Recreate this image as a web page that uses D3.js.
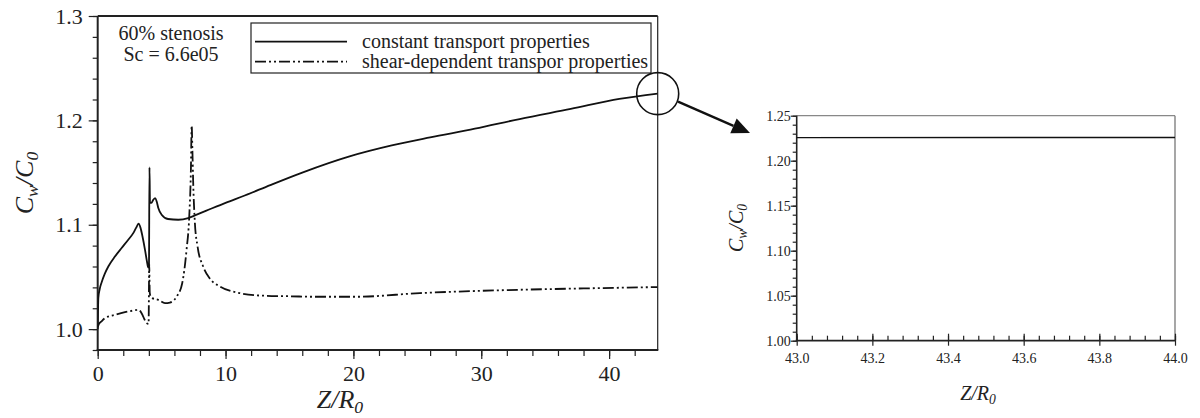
<!DOCTYPE html>
<html>
<head>
<meta charset="utf-8">
<script src="https://cdn.jsdelivr.net/npm/d3@7"></script>
<style>
  html, body { margin: 0; padding: 0; background: #fff; }
  svg { display: block; }
  svg text { font-family: "Liberation Serif", "Times New Roman", serif; fill: #222; }
</style>
</head>
<body>
<svg id="chart" width="1200" height="418"></svg>
<script>
// Wall concentration along the vessel, constant transport properties (solid)
const constZ = [0, 0.02, 0.05, 0.15, 0.31, 0.55, 0.83, 1.35, 1.87, 2.39, 2.78, 3.0, 3.2, 3.35, 3.5, 3.7, 3.85, 3.95, 4.01, 4.05, 4.09, 4.2, 4.35, 4.5, 4.62, 4.74, 5.0, 5.5, 6.3, 7.08, 7.6, 8.5, 10, 11.5, 13.5, 16, 19.7, 23, 26, 29.5, 33, 37, 40.8, 43.8];
const constC = [1.0, 1.015, 1.03, 1.038, 1.045, 1.053, 1.060, 1.0696, 1.0777, 1.0856, 1.092, 1.097, 1.101, 1.097, 1.089, 1.076, 1.065, 1.059, 1.061, 1.155, 1.121, 1.121, 1.124, 1.1256, 1.122, 1.116, 1.1096, 1.1055, 1.1048, 1.1064, 1.109, 1.1135, 1.121, 1.128, 1.138, 1.150, 1.1655, 1.176, 1.1837, 1.192, 1.2013, 1.211, 1.2205, 1.2256];

// Shear-dependent transport properties (dash-dot-dot)
const shearZ = [0, 0.1, 0.3, 0.57, 1.35, 2.13, 2.8, 3.17, 3.4, 3.56, 3.83, 3.98, 4.03, 4.07, 4.15, 4.27, 4.74, 5.26, 5.65, 6.17, 6.61, 6.95, 7.16, 7.29, 7.35, 7.41, 7.47, 7.6, 7.8, 8.25, 8.8, 9.55, 11.1, 13, 15, 17, 20.2, 25.2, 33, 38, 43.8];
const shearC = [1.002, 1.005, 1.0075, 1.0105, 1.0137, 1.0163, 1.0178, 1.0185, 1.016, 1.012, 1.0058, 1.005, 1.062, 1.035, 1.031, 1.0297, 1.028, 1.025, 1.0255, 1.031, 1.044, 1.076, 1.108, 1.153, 1.195, 1.17, 1.14, 1.102, 1.08, 1.060, 1.048, 1.041, 1.0345, 1.032, 1.0315, 1.031, 1.031, 1.0345, 1.0377, 1.039, 1.0403];

// Enlarged view of the outlet region
const insetZ = [43.0, 44.0];
const insetC = [1.2256, 1.2258];

// Tick values
const mainXMajor = [0, 10, 20, 30, 40];
const mainYMajor = [1.0, 1.1, 1.2, 1.3];
const insetXMajor = [43.0, 43.2, 43.4, 43.6, 43.8, 44.0];
const insetYMajor = [1.00, 1.05, 1.10, 1.15, 1.20, 1.25];

const legendLabels = ["constant transport properties", "shear-dependent transpor properties"];
const noteLines = ["60% stenosis", "Sc = 6.6e05"];

const SERIF = '"Liberation Serif", "Times New Roman", serif';
const svg = d3.select("#chart");
const DASH = "11,3,2,3,2,3";

// ---------- main panel ----------
const x = d3.scaleLinear().domain([0, 43.8]).range([97.7, 657.7]);
const y = d3.scaleLinear().domain([0.98, 1.3]).range([350, 16]);

svg.append("clipPath").attr("id", "clipMain").append("rect")
  .attr("x", x.range()[0]).attr("y", y.range()[1])
  .attr("width", x.range()[1] - x.range()[0]).attr("height", y.range()[0] - y.range()[1]);

const main = svg.append("g");

function styleAxis(g, size) {
  g.attr("font-family", null).attr("font-size", null);
  g.select(".domain").remove();
  g.selectAll(".tick line").attr("stroke", "#222").attr("stroke-width", 1.2);
  g.selectAll(".tick text")
    .style("font-family", SERIF)
    .style("font-size", size + "px")
    .style("fill", "#222");
}

// x ticks
main.append("g").attr("transform", `translate(0,${y.range()[0]})`)
  .call(d3.axisBottom(x).tickValues(d3.range(0, 43.8, 2)).tickSize(6).tickFormat(""))
  .call(g => styleAxis(g, 22));
main.append("g").attr("transform", `translate(0,${y.range()[0]})`)
  .call(d3.axisBottom(x).tickValues(mainXMajor).tickSize(9).tickPadding(6).tickFormat(d3.format("d")))
  .call(g => styleAxis(g, 22));

// y ticks
main.append("g").attr("transform", `translate(${x.range()[0]},0)`)
  .call(d3.axisLeft(y).tickValues(d3.range(0, 17).map(i => +(0.98 + i * 0.02).toFixed(2))).tickSize(5).tickFormat(""))
  .call(g => styleAxis(g, 22));
main.append("g").attr("transform", `translate(${x.range()[0]},0)`)
  .call(d3.axisLeft(y).tickValues(mainYMajor).tickSize(9).tickPadding(6).tickFormat(d3.format(".1f")))
  .call(g => styleAxis(g, 22));

// frame
main.append("line").attr("x1", x.range()[0]).attr("x2", x.range()[1])
  .attr("y1", y.range()[1]).attr("y2", y.range()[1]).attr("stroke", "#222").attr("stroke-width", 1.8);
main.append("line").attr("x1", x.range()[1]).attr("x2", x.range()[1])
  .attr("y1", y.range()[1]).attr("y2", y.range()[0]).attr("stroke", "#222").attr("stroke-width", 1.2);
main.append("line").attr("x1", x.range()[0]).attr("x2", x.range()[0])
  .attr("y1", y.range()[1]).attr("y2", y.range()[0]).attr("stroke", "#222").attr("stroke-width", 2);
main.append("line").attr("x1", x.range()[0] - 1).attr("x2", x.range()[1] + 0.6)
  .attr("y1", y.range()[0]).attr("y2", y.range()[0]).attr("stroke", "#222").attr("stroke-width", 2.2);

const line = d3.line().x(d => x(d[0])).y(d => y(d[1])).curve(d3.curveMonotoneX);

main.append("path").datum(constZ.map((z, i) => [z, constC[i]]))
  .attr("clip-path", "url(#clipMain)")
  .attr("d", line).attr("fill", "none").attr("stroke", "#111").attr("stroke-width", 1.8);
main.append("path").datum(shearZ.map((z, i) => [z, shearC[i]]))
  .attr("clip-path", "url(#clipMain)")
  .attr("d", line).attr("fill", "none").attr("stroke", "#111").attr("stroke-width", 1.8)
  .attr("stroke-dasharray", DASH);

// annotation
main.selectAll("text.note").data(noteLines).join("text")
  .attr("class", "note").attr("x", 171).attr("y", (d, i) => 40 + i * 21)
  .attr("text-anchor", "middle").style("font-size", "20px").text(d => d);

// legend
const leg = main.append("g");
leg.append("rect").attr("x", 251).attr("y", 23).attr("width", 400).attr("height", 50)
  .attr("fill", "#fff").attr("stroke", "#222").attr("stroke-width", 1.2);
legendLabels.forEach((lab, i) => {
  const ly = 41.7 + i * 20;
  leg.append("line").attr("x1", 255).attr("x2", 347).attr("y1", ly).attr("y2", ly)
    .attr("stroke", "#111").attr("stroke-width", 1.8)
    .attr("stroke-dasharray", i === 1 ? DASH : null);
  leg.append("text").attr("x", 362).attr("y", ly + 6.5).style("font-size", "20px").text(lab);
});

// axis titles: italic ratio with subscripts
function ratioLabel(g, a, sa, b, sb, size) {
  const t = g.append("text").style("font-size", size + "px").style("font-style", "italic")
    .attr("text-anchor", "middle");
  t.append("tspan").text(a);
  if (sa) t.append("tspan").style("font-size", (size * 0.68) + "px").attr("dy", size * 0.2).text(sa);
  t.append("tspan").attr("dy", sa ? -size * 0.2 : 0).text("/" + b);
  t.append("tspan").style("font-size", (size * 0.68) + "px").attr("dy", size * 0.2).text(sb);
  return t;
}
ratioLabel(main.append("g").attr("transform", "translate(33,183) rotate(-90)"), "C", "w", "C", "0", 26);
ratioLabel(main.append("g").attr("transform", "translate(340,408)"), "Z", "", "R", "0", 26);

// zoom marker and arrow
const zx = x(43.8), zy = y(1.2256);
main.append("circle").attr("cx", zx).attr("cy", zy).attr("r", 21)
  .attr("fill", "none").attr("stroke", "#111").attr("stroke-width", 1.6);
const ax0 = 678, ay0 = 101.7, ax1 = 750, ay1 = 133;
const ang = Math.atan2(ay1 - ay0, ax1 - ax0);
const hl = 18, hw = 8;
const bx = ax1 - hl * Math.cos(ang), by = ay1 - hl * Math.sin(ang);
main.append("line").attr("x1", ax0).attr("y1", ay0).attr("x2", bx).attr("y2", by)
  .attr("stroke", "#111").attr("stroke-width", 2.4);
main.append("path").attr("d", d3.line()([
  [ax1, ay1],
  [bx + hw * Math.sin(ang), by - hw * Math.cos(ang)],
  [bx - hw * Math.sin(ang), by + hw * Math.cos(ang)]
]) + "Z").attr("fill", "#111");

// ---------- inset panel ----------
const xi = d3.scaleLinear().domain([43, 44]).range([796.7, 1175]);
const yi = d3.scaleLinear().domain([1.0, 1.25]).range([340.7, 115.7]);
const ins = svg.append("g");

svg.append("clipPath").attr("id", "clipInset").append("rect")
  .attr("x", xi.range()[0]).attr("y", yi.range()[1])
  .attr("width", xi.range()[1] - xi.range()[0]).attr("height", yi.range()[0] - yi.range()[1]);

ins.append("line").attr("x1", xi.range()[0]).attr("x2", xi.range()[1])
  .attr("y1", yi.range()[1]).attr("y2", yi.range()[1]).attr("stroke", "#888").attr("stroke-width", 1.3);
ins.append("line").attr("x1", xi.range()[1]).attr("x2", xi.range()[1])
  .attr("y1", yi.range()[1]).attr("y2", yi.range()[0]).attr("stroke", "#777").attr("stroke-width", 1.3);

ins.append("g").attr("transform", `translate(${xi.range()[0]},0)`)
  .call(d3.axisLeft(yi).tickValues(d3.range(0, 26).map(i => +(1 + i * 0.01).toFixed(2))).tickSize(4).tickFormat(""))
  .call(g => styleAxis(g, 14));
ins.append("g").attr("transform", `translate(${xi.range()[0]},0)`)
  .call(d3.axisLeft(yi).tickValues(insetYMajor).tickSize(6).tickPadding(0).tickFormat(d3.format(".2f")))
  .call(g => styleAxis(g, 14));

ins.append("g").attr("transform", `translate(0,${yi.range()[0]})`)
  .call(d3.axisBottom(xi).tickValues(d3.range(0, 26).map(i => +(43 + i * 0.04).toFixed(2))).tickSize(-5).tickFormat(""))
  .call(g => styleAxis(g, 14));
ins.append("g").attr("transform", `translate(0,${yi.range()[0]})`)
  .call(d3.axisBottom(xi).tickValues(insetXMajor).tickSize(5).tickPadding(7).tickFormat(d3.format(".1f")))
  .call(g => styleAxis(g, 14));
ins.append("g").attr("transform", `translate(0,${yi.range()[0]})`)
  .call(d3.axisBottom(xi).tickValues(insetXMajor).tickSize(-7).tickFormat(""))
  .call(g => styleAxis(g, 14));

ins.append("line").attr("x1", xi.range()[0]).attr("x2", xi.range()[0])
  .attr("y1", yi.range()[1]).attr("y2", yi.range()[0]).attr("stroke", "#222").attr("stroke-width", 1.6);
ins.append("line").attr("x1", xi.range()[0] - 1).attr("x2", xi.range()[1] + 0.6)
  .attr("y1", yi.range()[0]).attr("y2", yi.range()[0]).attr("stroke", "#222").attr("stroke-width", 1.8);

const lineI = d3.line().x(d => xi(d[0])).y(d => yi(d[1]));
ins.append("path").datum(insetZ.map((z, i) => [z, insetC[i]]))
  .attr("clip-path", "url(#clipInset)")
  .attr("d", lineI).attr("fill", "none").attr("stroke", "#111").attr("stroke-width", 1.4);

ratioLabel(ins.append("g").attr("transform", "translate(743,228) rotate(-90)"), "C", "w", "C", "0", 20);
ratioLabel(ins.append("g").attr("transform", "translate(978,400)"), "Z", "", "R", "0", 20);
</script>
</body>
</html>
